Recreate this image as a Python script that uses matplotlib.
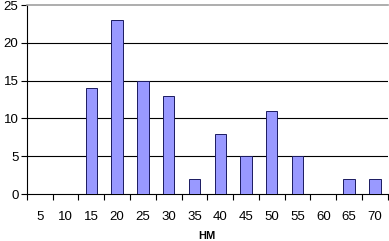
import numpy as np
import matplotlib.pyplot as plt

plt.rcParams['font.family'] = ['Liberation Sans', 'DejaVu Sans']

categories = ['5', '10', '15', '20', '25', '30', '35', '40', '45', '50', '55', '60', '65', '70']
counts = [0, 0, 14, 23, 15, 13, 2, 8, 5, 11, 5, 0, 2, 2]
y_ticks = [0, 5, 10, 15, 20, 25]

fig = plt.figure(figsize=(3.89, 2.41), dpi=100)
ax = fig.add_axes([0.069, 0.195, 0.928, 0.784])

x = np.arange(len(categories))
ax.bar(x, counts, width=0.44, color='#9999ff', edgecolor='#1a1a60', linewidth=0.7, zorder=3)

ax.set_xlim(-0.5, len(categories) - 0.5)
ax.set_ylim(0, 25)
ax.set_yticks(y_ticks)
for v in y_ticks[1:-1]:
    ax.axhline(v, color='black', linewidth=0.8, zorder=1)

ax.set_xticks(x)
ax.set_xticklabels(categories)
ax.set_xticks(np.arange(-0.5, len(categories)), minor=True)
ax.tick_params(axis='x', which='major', length=0, pad=12, labelsize=9.5)
ax.tick_params(axis='x', which='minor', length=4, width=0.8, direction='out')
ax.tick_params(axis='y', length=4, width=0.8, direction='out', labelsize=9.5, pad=2)

ax.spines['right'].set_visible(False)
ax.spines['top'].set_color('#a0a0a0')
ax.spines['top'].set_linewidth(1.2)
ax.spines['left'].set_linewidth(0.8)
ax.spines['bottom'].set_linewidth(0.8)

ax.set_xlabel('НМ', fontsize=8, fontweight='bold', labelpad=6)

fig.savefig('out.png', dpi=100)
